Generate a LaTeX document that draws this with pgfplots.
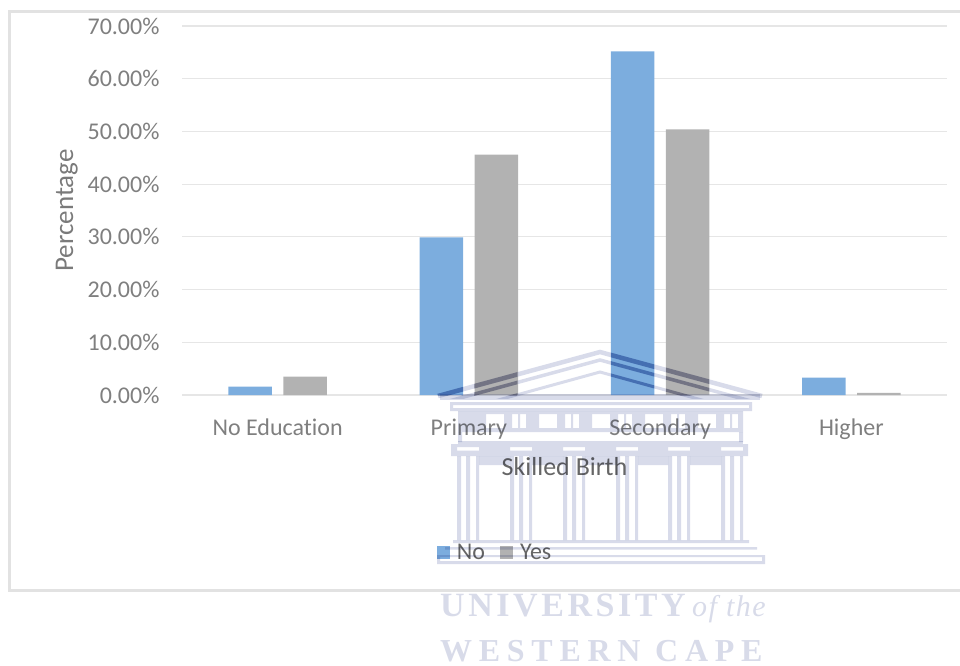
\documentclass[border=0pt]{standalone}
\usepackage{fontspec}
\setmainfont{Carlito}[Ligatures=NoCommon]
\newfontfamily\crest[LetterSpace=10.5]{Liberation Serif}
\newfontfamily\crestwide[LetterSpace=21]{Liberation Serif}
\newfontfamily\crestthe[LetterSpace=5]{Liberation Serif}
\usepackage{pgfplots}
\pgfplotsset{compat=1.18}
\definecolor{noblue}{HTML}{7CADDE}
\definecolor{yesgray}{HTML}{B2B2B2}
\definecolor{gridgray}{HTML}{E6E6E6}
\definecolor{framegray}{HTML}{E2E2E2}
\definecolor{ticktext}{HTML}{7F7F7F}
\definecolor{titletext}{HTML}{666666}
\definecolor{sidetext}{HTML}{7A7A7A}
\definecolor{crestfill}{HTML}{D8DBEA}
\definecolor{crestdeep}{HTML}{A8C0E0}
\definecolor{crestdeepgray}{HTML}{C4C4D0}
\definecolor{cresttext}{HTML}{D8DBE9}
\pgfplotstableread{
pos no yes
0 1.6 3.5
1 29.9 45.6
2 65.2 50.4
3 3.3 0.4
}\educationtable
\pgfplotsset{squarekey/.style={/pgfplots/legend image code/.code={\fill[##1] (0pt,-6.5pt) rectangle (13pt,6.5pt);\path (18pt,0pt);}}}
\begin{document}
\begin{tikzpicture}[x=1pt,y=-1pt]
\useasboundingbox (0,0) rectangle (960,665);
% outer chart frame
\draw[framegray,line width=3pt] (961,11.5) -- (9,11.5) -- (9,590.5) -- (961,590.5);
\coordinate (plotorigin) at (182,395);
\begin{axis}[
  at={(plotorigin)},anchor=south west,
  scale only axis,width=765pt,height=369pt,
  xmin=-0.5,xmax=3.5,ymin=0,ymax=70,
  axis y line=left,axis x line=bottom,
  axis line style={draw=none},
  x axis line style={draw=gridgray,-},
  y axis line style={draw=none,-},
  ymajorgrids,grid style={gridgray,line width=1.2pt},
  major tick length=0pt,
  ytick={0,10,...,70},
  yticklabel={\pgfmathprintnumber[fixed,fixed zerofill,precision=2,assume math mode=true]{\tick}\%},
  xtick={0,1,2,3},
  xticklabels={No Education,Primary,Secondary,Higher},
  tick label style={font=\fontsize{24}{26}\selectfont,text=ticktext},
  yticklabel style={xshift=-19pt},
  xticklabel style={yshift=-20pt,text=ticktext},
  xlabel={Skilled Birth},
  ylabel={Percentage},
  xlabel style={font=\fontsize{26}{28}\selectfont,text=titletext,yshift=-11pt},
  ylabel style={font=\fontsize{27}{29}\selectfont,text=sidetext,yshift=3pt},
  legend style={at={(0.329,-0.427)},anchor=west,draw=none,fill=none,
    legend columns=2,font=\fontsize{24}{26}\selectfont,text=titletext,
    /tikz/every even column/.append style={column sep=13pt}},
]
\addplot[ybar,bar width=43.5pt,bar shift=-27.5pt,fill=noblue,draw=none,squarekey] table[x=pos,y=no] {\educationtable};
\addplot[ybar,bar width=43.5pt,bar shift=27.5pt,fill=yesgray,draw=none,squarekey] table[x=pos,y=yes] {\educationtable};
\legend{No,Yes}
\end{axis}
% university crest, printed over the chart
\begin{scope}[blend mode=multiply]
 \begin{scope}
  \clip (430,345) rectangle (770,398);
  \draw[crestfill,line width=4.5pt,line join=miter] (438,396) -- (600,352) -- (762,396);
  \draw[crestfill,line width=3.5pt] (438,404) -- (600,360) -- (762,404);
  \draw[crestfill,line width=3pt] (440,416) -- (600,372) -- (760,416);
 \end{scope}
 \foreach \xa/\xb/\deep in {419/463/crestdeep,474/517/crestdeepgray,611/654/crestdeep,666/709/crestdeepgray}{
  \begin{scope}
   \clip (\xa,345) rectangle (\xb,395);
   \draw[\deep,line width=4.5pt] (438,396) -- (600,352) -- (762,396);
   \draw[\deep,line width=3.5pt] (438,404) -- (600,360) -- (762,404);
   \draw[\deep,line width=3pt] (440,416) -- (600,372) -- (760,416);
  \end{scope}
 }
 \fill[crestfill] (440,394) rectangle (760,400);
 \fill[crestfill,even odd rule] (450,402) rectangle (752,411)
      (453,405) rectangle (749,408);
 % frieze with its windows
 \fill[crestfill,even odd rule] (458,411) rectangle (743,432)
   \foreach \w in {486,539,592,645,698}{ (\w,414) rectangle +(18,14) }
   \foreach \w in {512,565,618,671,724}{ (\w,414) rectangle +(6,14) (\w+8,414) rectangle +(6,14) };
 \fill[crestfill] (458,432) rectangle (462,442) (739,432) rectangle (743,442);
 \fill[crestfill] (458,441) rectangle (743,444);
 % cornice over the columns
 \fill[crestfill,even odd rule] (451,444) rectangle (748,456)
   \foreach \c in {457,510,563,616,668,721}{ (\c,447) rectangle +(22,3.5) };
 \fill[crestfill] (479,456) rectangle (510,465) (532,456) rectangle (563,465)
    (585,456) rectangle (616,465) (638,456) rectangle (668,465) (690,456) rectangle (721,465);
 % columns
 \foreach \c in {457,510,563,616,668,721}{
   \fill[crestfill] (\c,456) rectangle +(4,84) (\c+9,456) rectangle +(4,84) (\c+19,456) rectangle +(3,84);
 }
 % steps
 \fill[crestfill] (453,540) rectangle (749,543) (445,547) rectangle (757,549.5)
    (440,555) rectangle (765,557) (437,561) rectangle (765,564) (437,555) rectangle (440,564) (762,555) rectangle (765,564);
\end{scope}
\node[anchor=base west,inner sep=0pt,text=cresttext,font=\crest\bfseries\fontsize{34}{36}\selectfont] at (440,616) {UNIVERSITY};
\node[anchor=base west,inner sep=0pt,text=cresttext,font=\crestthe\itshape\fontsize{30}{32}\selectfont] at (692,616) {of the};
\node[anchor=base west,inner sep=0pt,text=cresttext,font=\crestwide\bfseries\fontsize{32}{34}\selectfont] at (440,661) {WESTERN CAPE};
\end{tikzpicture}
\end{document}
